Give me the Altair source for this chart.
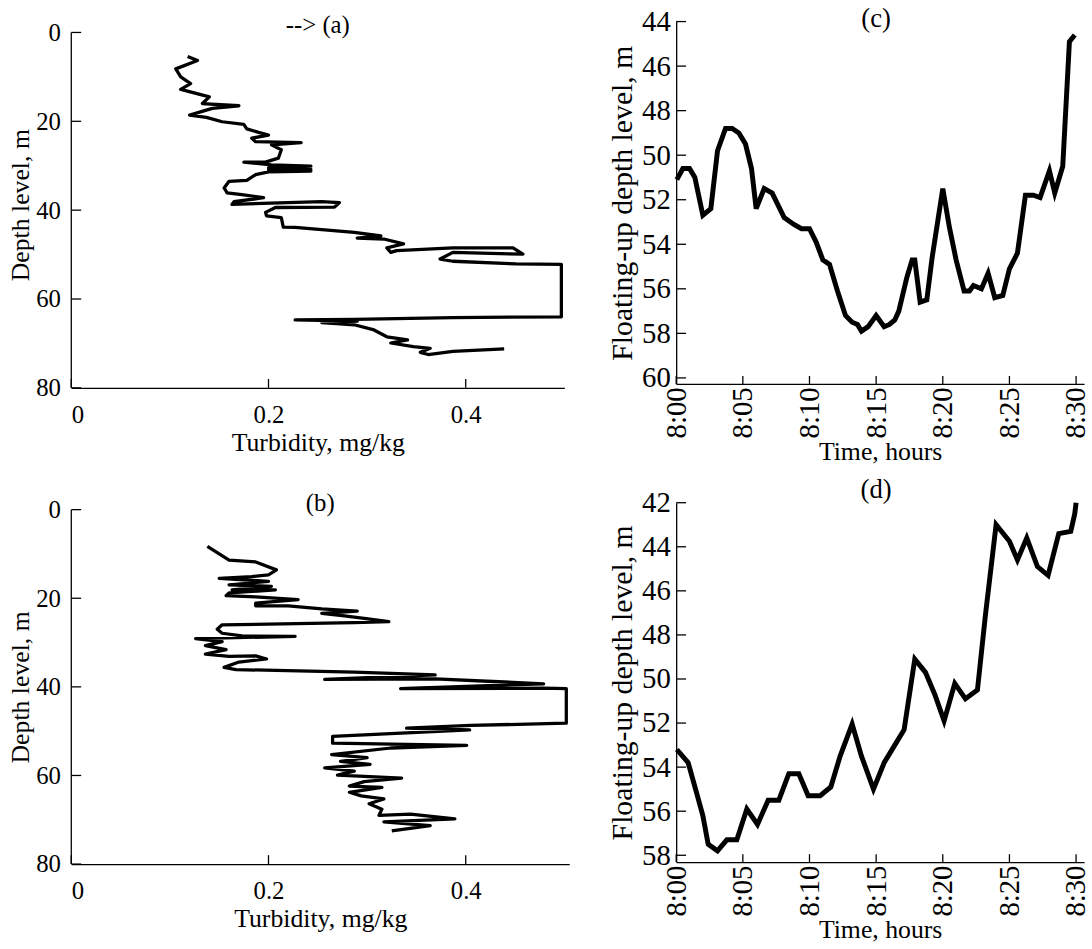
import altair as alt
import pandas as pd

FONT = "Liberation Serif"

# Panel labels
panel_labels = ["--> (a)", "(b)", "(c)", "(d)"]

# (a) turbidity profile: turbidity (mg/kg) along the path, depth (m)
a_turb = [0.118, 0.128, 0.106, 0.111, 0.121, 0.111, 0.140, 0.133, 0.170, 0.143,
          0.120, 0.137, 0.153, 0.175, 0.178, 0.190, 0.200, 0.183, 0.187, 0.233,
          0.203, 0.213, 0.210, 0.197, 0.175, 0.203, 0.243, 0.200, 0.243, 0.200,
          0.243, 0.200, 0.187, 0.178, 0.160, 0.155, 0.158, 0.173, 0.195, 0.165,
          0.163, 0.254, 0.272, 0.267, 0.207, 0.197, 0.198, 0.213, 0.215, 0.227,
          0.287, 0.314, 0.290, 0.317, 0.337, 0.320, 0.324, 0.330, 0.387, 0.448,
          0.458, 0.387, 0.374, 0.387, 0.451, 0.497, 0.497, 0.387, 0.287, 0.227,
          0.290, 0.254, 0.287, 0.307, 0.320, 0.341, 0.324, 0.347, 0.364, 0.354,
          0.362, 0.387, 0.439]
a_depth = [5.4, 6.3, 8.2, 10.0, 11.5, 12.8, 14.5, 16.0, 16.5, 17.1,
           18.6, 19.1, 20.1, 20.7, 21.7, 22.5, 23.1, 23.8, 24.6, 24.8,
           25.3, 26.4, 28.3, 29.2, 29.2, 29.8, 30.1, 30.5, 30.8, 31.0,
           31.2, 31.4, 32.0, 33.3, 33.5, 35.0, 36.1, 36.5, 37.2, 38.1,
           38.7, 38.1, 38.3, 39.3, 39.4, 40.5, 41.3, 41.7, 43.8, 43.9,
           45.0, 45.8, 46.3, 46.5, 47.6, 48.5, 49.5, 49.1, 48.5, 48.5,
           49.9, 49.5, 51.0, 51.5, 52.1, 52.2, 64.0, 64.2, 64.6, 64.7,
           65.0, 65.3, 65.8, 66.96, 68.5, 69.2, 69.9, 70.7, 71.1, 72.0,
           72.5, 71.8, 71.2]

# (b) turbidity profile
b_turb = [0.138, 0.160, 0.187, 0.208, 0.200, 0.183, 0.150, 0.200, 0.160, 0.203,
          0.163, 0.207, 0.160, 0.157, 0.187, 0.230, 0.187, 0.187, 0.220, 0.254,
          0.290, 0.254, 0.277, 0.299, 0.322, 0.287, 0.153, 0.148, 0.153, 0.173,
          0.227, 0.126, 0.153, 0.136, 0.157, 0.136, 0.160, 0.187, 0.198, 0.170,
          0.155, 0.167, 0.287, 0.369, 0.257, 0.369, 0.479, 0.334, 0.479, 0.502,
          0.502, 0.405, 0.340, 0.404, 0.265, 0.265, 0.401, 0.324, 0.264, 0.300,
          0.273, 0.303, 0.257, 0.287, 0.270, 0.335, 0.297, 0.282, 0.315, 0.282,
          0.294, 0.317, 0.302, 0.315, 0.312, 0.344, 0.389, 0.317, 0.364, 0.325]
b_depth = [8.3, 11.4, 11.8, 13.6, 14.7, 15.1, 15.5, 16.2, 17.0, 17.3,
           18.1, 18.1, 18.8, 19.4, 19.7, 20.3, 21.1, 21.7, 21.7, 22.4,
           22.9, 23.4, 24.0, 24.6, 25.3, 25.5, 26.0, 27.0, 27.9, 28.5,
           28.6, 29.1, 29.8, 30.7, 31.6, 32.6, 33.1, 33.0, 33.7, 34.4,
           35.6, 36.1, 36.7, 37.3, 38.3, 38.2, 39.3, 40.4, 40.3, 40.4,
           48.2, 48.7, 49.3, 49.7, 51.2, 52.7, 53.2, 53.8, 55.3, 56.0,
           56.8, 57.5, 58.3, 59.0, 59.9, 60.6, 61.4, 62.4, 62.7, 63.8,
           64.6, 65.3, 66.4, 67.6, 69.0, 68.7, 69.8, 70.5, 71.3, 72.5]

# (c) floating-up depth level vs minutes after 8:00
c_min = [0.05, 0.5, 1.0, 1.4, 2.0, 2.6, 3.1, 3.7, 4.2, 4.7,
         5.2, 5.65, 6.0, 6.6, 7.2, 8.1, 8.8, 9.4, 10.0, 10.5,
         11.0, 11.5, 12.1, 12.7, 13.2, 13.6, 13.9, 14.4, 15.0, 15.6,
         16.0, 16.4, 16.7, 17.3, 17.7, 17.9, 18.3, 18.8, 19.2, 20.0,
         20.5, 21.0, 21.6, 22.0, 22.3, 22.9, 23.4, 23.9, 24.5, 25.0,
         25.6, 26.2, 26.8, 27.3, 28.0, 28.4, 29.0, 29.5, 29.9]
c_level = [51.1, 50.6, 50.6, 51.0, 52.7, 52.4, 49.8, 48.8, 48.8, 49.0,
           49.5, 50.6, 52.4, 51.5, 51.7, 52.8, 53.1, 53.3, 53.3, 53.9,
           54.7, 54.9, 56.1, 57.2, 57.5, 57.6, 57.9, 57.7, 57.2, 57.7,
           57.6, 57.4, 57.0, 55.5, 54.7, 54.7, 56.6, 56.5, 54.6, 51.5,
           53.25, 54.7, 56.1, 56.1, 55.85, 56.0, 55.3, 56.4, 56.3, 55.1,
           54.4, 51.8, 51.8, 51.9, 50.7, 51.7, 50.5, 44.9, 44.6]

# (d) floating-up depth level vs minutes after 8:00
d_min = [0.05, 0.9, 1.5, 2.0, 2.4, 3.1, 3.8, 4.55, 5.3, 6.1,
         6.9, 7.7, 8.45, 9.2, 9.9, 10.8, 11.6, 12.3, 13.2, 13.9,
         14.8, 15.6, 16.5, 17.1, 17.9, 18.7, 19.4, 20.1, 20.9, 21.7,
         22.6, 23.2, 24.0, 25.0, 25.6, 26.3, 27.1, 27.9, 28.7, 29.6,
         29.9, 30.0]
d_level = [53.2, 53.8, 55.1, 56.2, 57.5, 57.8, 57.3, 57.3, 55.9, 56.6,
           55.5, 55.5, 54.3, 54.3, 55.3, 55.3, 54.9, 53.5, 52.05, 53.5,
           55.0, 53.8, 52.9, 52.3, 49.1, 49.7, 50.7, 51.9, 50.2, 50.9,
           50.5, 47.1, 43.0, 43.75, 44.6, 43.6, 44.9, 45.3, 43.4, 43.3,
           42.5, 42.0]

# axis tick values
turb_ticks = [0, 0.2, 0.4]
depth_ticks = [0, 20, 40, 60, 80]
time_ticks = [0, 5, 10, 15, 20, 25, 30]
c_ticks = [44, 46, 48, 50, 52, 54, 56, 58, 60]
d_ticks = [42, 44, 46, 48, 50, 52, 54, 56, 58]


def inward_ticks(xfield, yfield, xscale, yscale, xvals, yvals, h, xlen, ylen):
    """Short tick rules drawn inside the plot area along the left and bottom axes."""
    xt = alt.Chart(pd.DataFrame({xfield: xvals})).mark_rule(color="black", strokeWidth=1.3).encode(
        x=alt.X(f"{xfield}:Q", scale=xscale),
        y=alt.value(h),
        y2=alt.value(h - xlen),
    )
    yt = alt.Chart(pd.DataFrame({yfield: yvals})).mark_rule(color="black", strokeWidth=1.3).encode(
        y=alt.Y(f"{yfield}:Q", scale=yscale),
        x=alt.value(0),
        x2=alt.value(ylen),
    )
    return xt, yt


def panel_label(text, x, y, size):
    return alt.Chart(pd.DataFrame({"t": [text]})).mark_text(
        font=FONT, fontSize=size, baseline="alphabetic", align="center", color="black",
    ).encode(x=alt.value(x), y=alt.value(y), text="t:N")


def profile(turb, depth, label, w, h, xmax, ytop):
    """Depth profile; the plot area starts a little above depth 0 (ytop < 0),
    and the depth axis line itself is drawn from 0 to 80 only."""
    df = pd.DataFrame({"turb": turb, "depth": depth, "i": list(range(len(turb)))})
    xs = alt.Scale(domain=[0, xmax], nice=False, zero=False)
    ys = alt.Scale(domain=[ytop, 80], reverse=True, nice=False, zero=False)
    line = alt.Chart(df).mark_line(color="black", strokeWidth=3.3, strokeJoin="round").encode(
        x=alt.X("turb:Q", scale=xs,
                axis=alt.Axis(values=turb_ticks, format="~g", title="Turbidity, mg/kg",
                              labelPadding=15, titlePadding=2, labelFontSize=25, titleFontSize=26)),
        y=alt.Y("depth:Q", scale=ys,
                axis=alt.Axis(values=depth_ticks, title="Depth level, m", domain=False,
                              labelPadding=11, titlePadding=2, labelFontSize=25, titleFontSize=26)),
        order=alt.Order("i:Q"),
    )
    yaxis_line = alt.Chart(pd.DataFrame({"depth": [depth_ticks[0]], "depth2": [depth_ticks[-1]]})).mark_rule(
        color="black", strokeWidth=1.3
    ).encode(y=alt.Y("depth:Q", scale=ys), y2="depth2:Q", x=alt.value(0))
    xt, yt = inward_ticks("turb", "depth", xs, ys, turb_ticks, depth_ticks, h, 9, 10)
    top0 = h * (0 - ytop) / (80 - ytop)
    return alt.layer(line, yaxis_line, xt, yt, panel_label(label, w / 2, top0 + 1, 25)).properties(
        width=w, height=h)


def series(mins, level, label, w, h, ydom, yticks, label_y):
    df = pd.DataFrame({"m": mins, "lev": level})
    xs = alt.Scale(domain=[0, 30.6], nice=False, zero=False)
    ys = alt.Scale(domain=ydom, reverse=True, nice=False, zero=False)
    line = alt.Chart(df).mark_line(color="black", strokeWidth=5, strokeJoin="miter").encode(
        x=alt.X("m:Q", scale=xs,
                axis=alt.Axis(values=time_ticks, title="Time, hours", labelAngle=270,
                              labelExpr="'8:' + (datum.value < 10 ? '0' : '') + datum.value",
                              labelPadding=3, titlePadding=1, labelFontSize=29, titleFontSize=26)),
        y=alt.Y("lev:Q", scale=ys,
                axis=alt.Axis(values=yticks, title="Floating-up depth level, m",
                              labelPadding=6, titlePadding=4, labelFontSize=29, titleFontSize=30)),
    )
    xt, yt = inward_ticks("m", "lev", xs, ys, time_ticks, yticks, h, 8, 10)
    return alt.layer(line, xt, yt, panel_label(label, 202, label_y, 27)).properties(width=w, height=h)


pa = profile(a_turb, a_depth, panel_labels[0], 498, 370, 0.5, -2.45)
pb = profile(b_turb, b_depth, panel_labels[1], 503, 358, 0.505, 0)
pc = series(c_min, c_level, panel_labels[2], 412, 366, [44, 60.27], c_ticks, 5.5)
pd_ = series(d_min, d_level, panel_labels[3], 412, 363, [42, 58.31], d_ticks, -4.5)

left = alt.vconcat(pa, pb, spacing=34)
right = alt.vconcat(pc, pd_, spacing=10)

chart = alt.hconcat(left, right, spacing=37).properties(
    padding={"left": 7, "top": 0, "right": 0, "bottom": 0},
    background="white",
).configure_view(stroke="transparent").configure_axis(
    labelFont=FONT, titleFont=FONT, labelColor="black", titleColor="black",
    titleFontWeight="normal", domainColor="black", domainWidth=1.3,
    ticks=False, tickSize=0, grid=False,
)

chart.save("out.html", embed_options={"renderer": "svg", "actions": False})
